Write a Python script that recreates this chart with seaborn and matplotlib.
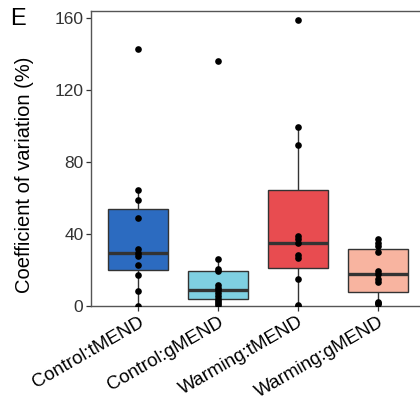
import numpy as np
import pandas as pd
import matplotlib
matplotlib.use("Agg")
import matplotlib.pyplot as plt
import seaborn as sns

categories = ["Control:tMEND", "Control:gMEND", "Warming:tMEND", "Warming:gMEND"]
control_tmend = [0, 8.5, 17, 23, 28, 29.5, 31.5, 49, 59, 64.5, 143]
control_gmend = [0.5, 1.5, 3, 4, 5.5, 7, 8.7, 10, 11.5, 19.4, 20.5, 26, 136]
warming_tmend = [0, 0.7, 15.2, 26.8, 28.3, 34.8, 37, 39, 89.6, 99.4, 159]
warming_gmend = [1.1, 1.8, 2.4, 13.2, 15, 17.6, 19.6, 30.2, 33.2, 34.8, 37.4]
colors = ["#2C6BC0", "#7FD0E2", "#E84C50", "#F8B4A0"]
yticks = [0, 40, 80, 120, 160]

series = [control_tmend, control_gmend, warming_tmend, warming_gmend]
df = pd.DataFrame({
    "group": np.concatenate([[c] * len(v) for c, v in zip(categories, series)]),
    "cv": np.concatenate([np.asarray(v, float) for v in series]),
})

sns.set_style("white")
plt.rcParams["font.family"] = ["Liberation Sans", "DejaVu Sans"]

fig = plt.figure(figsize=(4.2, 4.05), dpi=100)
ax = fig.add_axes([0.2167, 0.2444, 0.7955, 0.7284])

edge = "#333333"
sns.boxplot(data=df, x="group", y="cv", hue="group", order=categories,
            hue_order=categories, palette=colors, legend=False, width=0.75,
            showfliers=False, saturation=1, ax=ax,
            boxprops=dict(edgecolor=edge, linewidth=1.0),
            whiskerprops=dict(color=edge, linewidth=1.0),
            capprops=dict(linewidth=0),
            medianprops=dict(color=edge, linewidth=2.4))
sns.stripplot(data=df, x="group", y="cv", order=categories, jitter=False,
              color="black", size=4.8, ax=ax, zorder=5, clip_on=True)

ax.set_xlim(-0.59, 3.59)
ax.set_ylim(0, 164)
ax.set_yticks(yticks)
ax.set_yticklabels([str(t) for t in yticks], fontsize=12.5, color="#333333")
ax.set_xticks(range(len(categories)))
ax.set_xticklabels(categories, rotation=30, ha="right", rotation_mode="anchor",
                   fontsize=13.6, color="black")
ax.set_xlabel("")
ax.set_ylabel("Coefficient of variation (%)", fontsize=14.5, color="black")
ax.yaxis.set_label_coords(-0.172, 0.445)
ax.tick_params(axis="both", direction="out", length=3.5, width=0.9, color=edge,
               bottom=True, left=True, pad=2)
for s in ax.spines.values():
    s.set_color("#555555")
    s.set_linewidth(1.0)

fig.text(0.024, 0.954, "E", fontsize=17, ha="left", va="center", color="black")

fig.savefig("out.png", dpi=100)
